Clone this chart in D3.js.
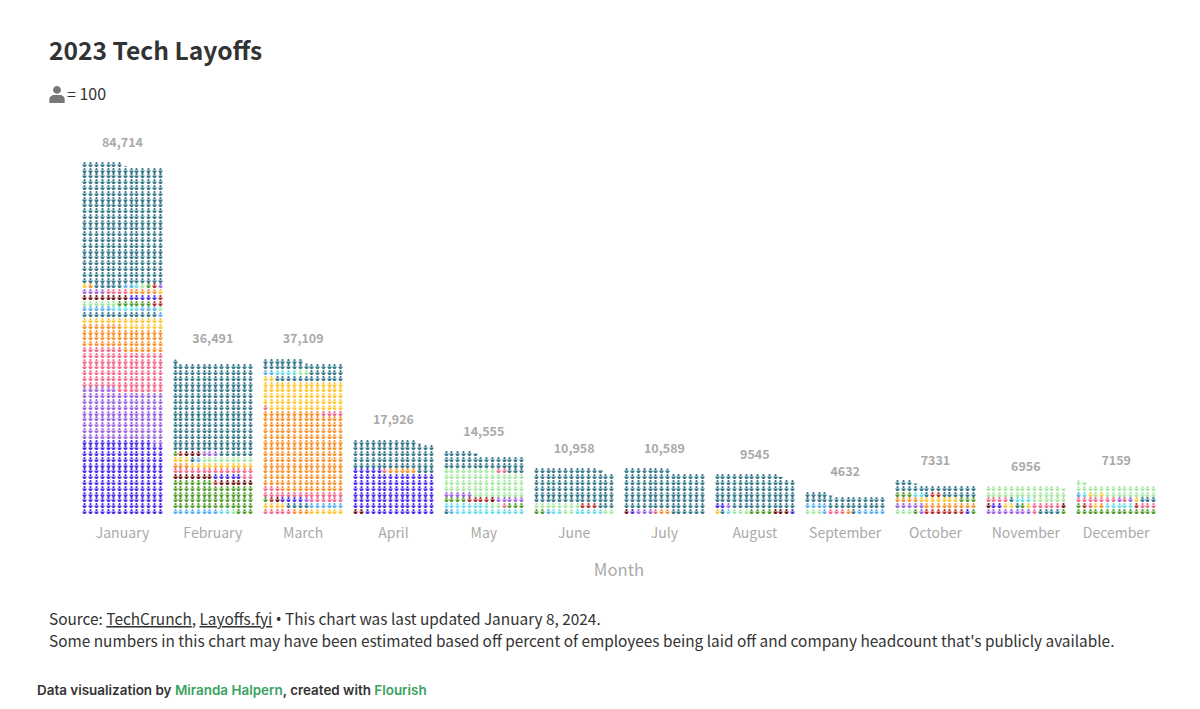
<!DOCTYPE html>
<html>
<head>
<meta charset="utf-8">
<title>2023 Tech Layoffs</title>
<script src="https://cdnjs.cloudflare.com/ajax/libs/d3/7.8.5/d3.min.js"></script>
<style>
html,body{margin:0;padding:0;background:#fff;}
svg{display:block;}
text{font-family:"Noto Sans CJK SC","Noto Sans",sans-serif;}
</style>
</head>
<body>
<div id="chart"></div>
<script>
var months = ["January","February","March","April","May","June","July","August","September","October","November","December"];
var layoffs = [84714,36491,37109,17926,14555,10958,10589,9545,4632,7331,6956,7159];
var layoffLabels = ["84,714","36,491","37,109","17,926","14,555","10,958","10,589","9545","4632","7331","6956","7159"];

// group name, number of icons, from the bottom row up
var january = ["blue",180,"purple",120,"pink",99,"orange",56,"yellow",21,"teal",13,"lightblue",1,
    "lightblue",5,"cyan",5,"lightblue",3,"lightgreen",1,"lightgreen",6,"green",6,"red",2,
    "darkred",8,"blue",5,"red",1,"purple",4,"pink",4,"orange",5,"yellow",1,
    "yellow",1,"orange",1,"teal",5,"lightblue",2,"cyan",1,"lightgreen",1,"green",1,"red",1,"purple",1,"teal",288];
var february = ["lightblue",8,"cyan",2,"lightgreen",1,"green",3,"green",56,"green",7,"red",1,"darkred",6,
    "darkred",7,"blue",5,"pink",2,"pink",14,"orange",3,"yellow",11,"yellow",3,"teal",1,"lightblue",1,"lightgreen",9,
    "green",1,"red",1,"darkred",3,"purple",3,"teal",217];
var march = ["pink",5,"orange",3,"yellow",6,"yellow",4,"teal",4,"lightblue",6,"green",1,"red",1,"darkred",1,"blue",4,"purple",1,"pink",6,
    "pink",14,"pink",3,"orange",11,"orange",178,"pink",4,"pink",1,"yellow",13,"yellow",58,"teal",12,
    "lightblue",2,"cyan",4,"lightgreen",2,"teal",6,"teal",22];
var april = ["darkred",2,"blue",101,"pink",1,"orange",5,"teal",71];
var may = ["teal",1,"lightblue",1,"cyan",12,"cyan",8,"lightgreen",2,"pink",1,"green",3,"green",4,"red",4,"darkred",1,"purple",5,
    "purple",5,"lightgreen",9,"lightgreen",42,"lightgreen",9,"pink",2,"teal",37];
var june = ["green",2,"lightblue",1,"cyan",2,"lightgreen",2,"cyan",5,"lightgreen",2,"lightgreen",8,"red",3,"teal",3,"teal",82];
var july = ["darkred",1,"blue",1,"purple",3,"pink",1,"orange",2,"teal",98];
var august = ["yellow",1,"teal",1,"cyan",1,"lightgreen",3,"green",4,"darkred",3,"blue",1,"blue",2,"purple",1,"teal",79];
var september = ["lightgreen",3,"lightblue",1,"pink",3,"orange",1,"teal",1,"lightblue",5,"lightblue",4,"teal",29];
var october = ["lightgreen",3,"green",1,"purple",1,"red",7,"blue",1,"green",1,"purple",5,"orange",9,"orange",4,"yellow",7,"green",3,
    "green",3,"cyan",2,"teal",1,"red",2,"teal",6,"teal",18];
var november = ["purple",8,"pink",1,"teal",4,"green",1,"darkred",1,"blue",2,"yellow",2,"teal",1,"green",1,"yellow",1,"pink",5,"darkred",1,
    "pink",4,"teal",1,"cyan",3,"lightgreen",34];
var december = ["green",14,"green",1,"red",1,"pink",1,"yellow",1,"orange",1,"cyan",5,"red",1,"pink",3,
    "pink",7,"purple",1,"pink",1,"purple",1,"yellow",1,"teal",3,
    "lightblue",1,"cyan",1,"yellow",1,"lightgreen",1,"yellow",1,"lightgreen",25];
var monthRuns = [january,february,march,april,may,june,july,august,september,october,november,december];

var groupNames = ["teal","blue","purple","pink","orange","yellow","lightblue","cyan","lightgreen","green","darkred","red"];
var groupColors = ["#2f7489","#4a28e8","#9b5fe0","#f2668b","#f78f26","#fdc62f","#54aef3","#66dcea","#a4e8a0","#4d9a26","#6f1010","#b52a2a"];

var perIcon = 100, perRow = 14, maxRows = 61;

var svg = d3.select("#chart").append("svg").attr("width",1200).attr("height",709);
var color = d3.scaleOrdinal().domain(groupNames).range(groupColors);
var xMonth = d3.scaleBand().domain(months).range([77.3,1161.3]);
var y = d3.scaleLinear().domain([0,maxRows]).range([514,161]);
var xCol = d3.scaleBand().domain(d3.range(perRow)).range([-40.5,40.5]);

// person icons, drawn in a 10x11 box
var personPath = "M5,0a2.3,2.3 0 1,0 .01,0z M0.8,5.3h8.4v3h-1.7v2.7h-5v-2.7h-1.7z";
var legendPath = "M5,0a2.5,2.5 0 1,0 .01,0z M0.2,11v-2.2c0,-2 1.6,-3 3,-3h3.6c1.4,0 3,1 3,3v2.2z";
var iconW = 5, iconH = 5;

function unitsFor(i){
    var runs = monthRuns[i], units = [], left = layoffs[i]/perIcon;
    for(var r=0;r<runs.length;r+=2){
        for(var c=0;c<runs[r+1] && left>0;c++){
            units.push({group:runs[r],part:Math.min(1,left),index:units.length});
            left -= 1;
        }
    }
    return units;
}

var defs = svg.append("defs");

var monthGroup = svg.selectAll("g.month")
    .data(months)
    .enter()
    .append("g")
    .attr("class","month");

monthGroup.each(function(m,i){
    var units = unitsFor(i);
    var rows = Math.ceil(units.length/perRow);
    var cx = xMonth(m)+xMonth.bandwidth()/2;
    var g = d3.select(this);

    g.selectAll("path")
        .data(units)
        .enter()
        .append("path")
        .attr("d",personPath)
        .attr("fill",function(d){ return color(d.group); })
        .attr("transform",function(d){
            var col = d.index%perRow, row = Math.floor(d.index/perRow);
            var px = Math.round(cx+xCol(col)+xCol.bandwidth()/2-iconW/2);
            var py = Math.round(y(row)-iconH);
            return "translate("+px+","+py+") scale("+(iconW/10)+","+(iconH/11)+")";
        })
        .attr("clip-path",function(d){
            if(d.part>=1) return null;
            var id = "part"+i;
            defs.append("clipPath").attr("id",id)
                .append("rect")
                .attr("x",0).attr("width",10)
                .attr("y",11*(1-d.part)).attr("height",11*d.part);
            return "url(#"+id+")";
        });

    g.append("text")
        .attr("text-anchor","middle")
        .attr("x",cx)
        .attr("y",y(rows)-14.5)
        .attr("font-size",12.5)
        .attr("font-weight",700)
        .attr("fill","#aaaaaa")
        .text(layoffLabels[i]);
});

var xAxis = svg.append("g")
    .attr("transform","translate(0,524)")
    .call(d3.axisBottom(xMonth).tickSize(0).tickPadding(0));
xAxis.select(".domain").remove();
xAxis.selectAll("text")
    .attr("font-size",14)
    .attr("fill","#aaaaaa")
    .attr("dy","0.98em")
    .style("font-family",'"Noto Sans CJK SC","Noto Sans",sans-serif');

svg.append("text").attr("x",619).attr("y",576).attr("text-anchor","middle")
    .attr("font-size",16.7).attr("fill","#aaaaaa").text("Month");

svg.append("text").attr("x",49).attr("y",60)
    .attr("font-size",24.6).attr("font-weight",700).attr("fill","#333333").text("2023 Tech Layoffs");

svg.append("path").attr("d",legendPath).attr("fill","#777777")
    .attr("transform","translate(49,86) scale(1.6,1.55)");
svg.append("text").attr("x",67).attr("y",100)
    .attr("font-size",16).attr("fill","#333333").text("= 100");

var source = svg.append("text").attr("x",49).attr("y",625).attr("font-size",15.38).attr("fill","#333333");
source.append("tspan").text("Source: ");
source.append("tspan").attr("text-decoration","underline").text("TechCrunch");
source.append("tspan").text(", ");
source.append("tspan").attr("text-decoration","underline").text("Layoffs.fyi");
source.append("tspan").text(" ");
source.append("tspan").style("font-family","'Noto Sans'").text("\u2022");
source.append("tspan").text(" This chart was last updated January 8, 2024.");
svg.append("text").attr("x",49).attr("y",647).attr("font-size",15.38).attr("fill","#333333")
    .text("Some numbers in this chart may have been estimated based off percent of employees being laid off and company headcount that's publicly available.");

var credit = svg.append("text").attr("x",37).attr("y",695).attr("font-size",13.45).attr("font-weight",600)
    .style("font-family","Inter,sans-serif").attr("fill","#333333");
credit.append("tspan").text("Data visualization by ");
credit.append("tspan").attr("fill","#3aa35f").text("Miranda Halpern");
credit.append("tspan").text(", created with ");
credit.append("tspan").attr("fill","#3aa35f").text("Flourish");
</script>
</body>
</html>
